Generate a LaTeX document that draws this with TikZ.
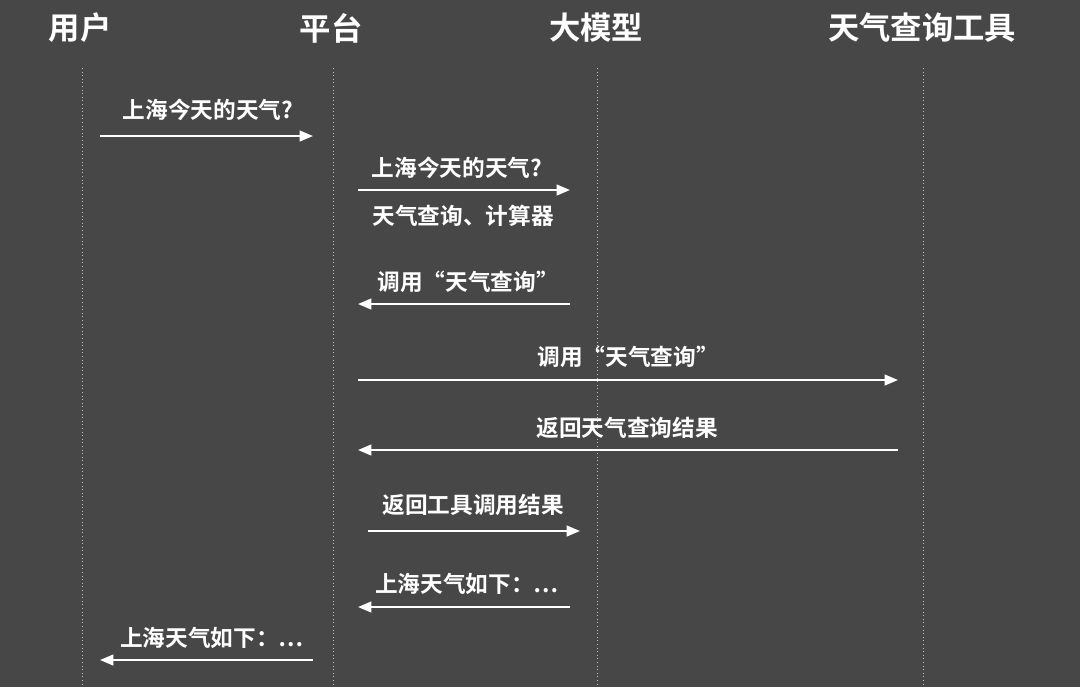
\documentclass[tikz,border=0pt]{standalone}
\usepackage{fontspec}
\setmainfont{Noto Sans CJK SC Bold}
\usetikzlibrary{arrows.meta}
\definecolor{bg}{HTML}{474747}
\definecolor{life}{HTML}{BDBDBD}
\begin{document}
\begin{tikzpicture}[x=0.75pt,y=-0.75pt,
  head/.style={text=white,font=\fontsize{23.5}{26}\selectfont,inner sep=0pt},
  lab/.style={text=white,font=\fontsize{17}{19}\selectfont,inner sep=0pt},
  msg/.style={draw=white,line width=1.6pt,-{Triangle[length=10pt,width=8pt]}},
  lifeline/.style={draw=life,line width=0.7pt,dotted}]
\fill[bg] (0,0) rectangle (1080,687);
\useasboundingbox (0,0) rectangle (1080,687);
\node[head] (hU) at (80,28) {用户};
\node[head] (hP) at (331,28) {平台};
\node[head] (hM) at (596,28) {大模型};
\node[head] (hT) at (922,28) {天气查询工具};
\foreach \n/\x in {U/82,P/333,M/597,T/923}{
  \coordinate (t\n) at (\x,68); \coordinate (b\n) at (\x,687);
  \draw[lifeline] (t\n) -- (b\n);}
\coordinate (a1) at (100,136); \coordinate (a1e) at (313,136);
\coordinate (a2) at (358,190); \coordinate (a2e) at (570,190);
\coordinate (a3) at (570,304); \coordinate (a3e) at (358,304);
\coordinate (a4) at (358,380); \coordinate (a4e) at (898,380);
\coordinate (a5) at (898,450); \coordinate (a5e) at (358,450);
\coordinate (a6) at (368,531); \coordinate (a6e) at (580,531);
\coordinate (a7) at (570,607); \coordinate (a7e) at (358,607);
\coordinate (a8) at (313,660); \coordinate (a8e) at (100,660);
\foreach \i in {1,...,8}{\draw[msg] (a\i) -- (a\i e);}
\node[lab] (l1) at (208,110) {上海今天的天气?};
\node[lab] (l2) at (457,168) {上海今天的天气?};
\node[lab] (l2b) at (463,216) {天气查询、计算器};
\node[lab] (l3) at (468,282) {调用“天气查询”};
\node[lab] (l4) at (628,357) {调用“天气查询”};
\node[lab] (l5) at (627,428) {返回天气查询结果};
\node[lab] (l6) at (473,505) {返回工具调用结果};
\node[lab] (l7) at (467,584) {上海天气如下：⋯};
\node[lab] (l8) at (212,638) {上海天气如下：⋯};
\end{tikzpicture}
\end{document}
